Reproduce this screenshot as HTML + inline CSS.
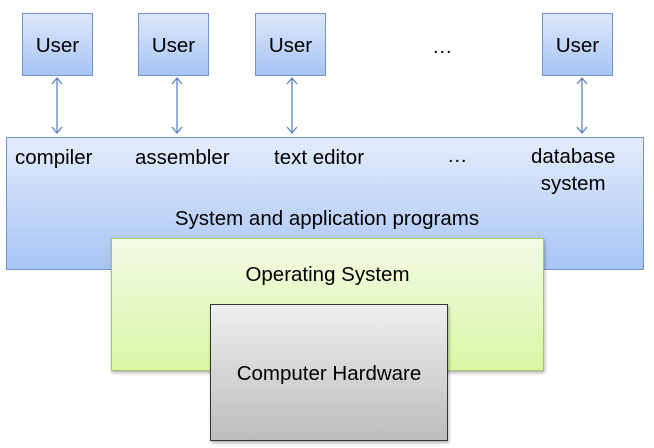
<!DOCTYPE html>
<html><head><style>
body{margin:0;width:654px;height:448px;background:#fff;position:relative;overflow:hidden;font-family:"Liberation Sans",sans-serif;}
.b{position:absolute;box-sizing:border-box;}
.u{width:71px;height:63px;top:13px;border:1px solid #6f95c9;background:linear-gradient(#dde8fb,#a8c4f4);font-size:20.5px;text-align:center;line-height:64px;}
.t{position:absolute;font-size:20.5px;color:#000;white-space:nowrap;}
</style></head><body>
<div class="b u" style="left:22px">User</div>
<div class="b u" style="left:138px">User</div>
<div class="b u" style="left:255px">User</div>
<div class="b u" style="left:542px">User</div>
<div class="t" style="left:432px;top:35px">…</div>
<div class="b" style="left:6px;top:137px;width:638px;height:133px;border:1px solid #6f95c9;background:linear-gradient(#e3ecfc,#a8c4f4);"></div>
<div class="t" style="left:15px;top:146px">compiler</div>
<div class="t" style="left:135px;top:146px">assembler</div>
<div class="t" style="left:274px;top:146px">text editor</div>
<div class="t" style="left:447px;top:144px">…</div>
<div class="t" style="left:531px;top:143px;text-align:center;line-height:27px">database<br>system</div>
<div class="t" style="left:0;width:654px;text-align:center;top:207px">System and application programs</div>
<div class="b" style="left:111px;top:238px;width:433px;height:133px;border:1px solid #a3c56a;background:linear-gradient(#f3fbe6,#d9f7a4);box-shadow:1px 2px 3px rgba(0,0,0,.3)"></div>
<div class="t" style="left:111px;width:433px;text-align:center;top:263px">Operating System</div>
<div class="b" style="left:210px;top:304px;width:238px;height:137px;border:1px solid #333;background:linear-gradient(#efefef,#bdbdbd);box-shadow:1px 2px 3px rgba(0,0,0,.3)"></div>
<div class="t" style="left:210px;width:238px;text-align:center;top:362px">Computer Hardware</div>
<svg width="654" height="448" style="position:absolute;left:0;top:0" fill="none" stroke="#5b86bf" stroke-width="1.3">
<g id="a"><path d="M57 78V133M52 84L57 78L62 84M52 127L57 133L62 127"/></g>
<use href="#a" x="120"/><use href="#a" x="235"/><use href="#a" x="525"/>
</svg>
</body></html>
